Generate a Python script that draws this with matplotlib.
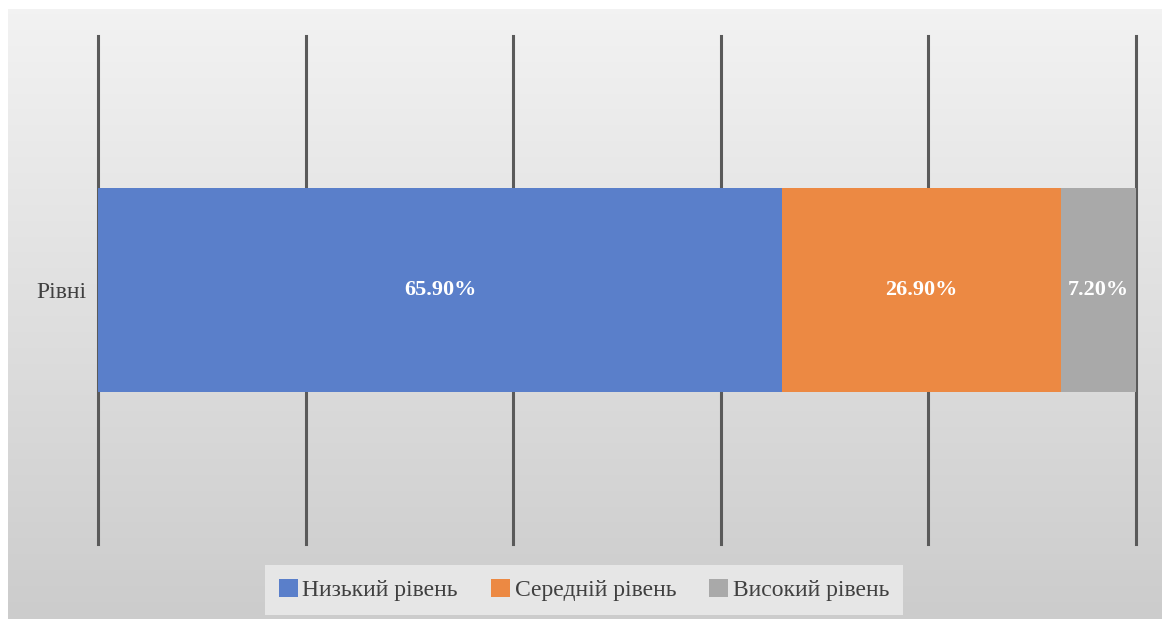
import numpy as np
import matplotlib
matplotlib.use('Agg')
from matplotlib import pyplot as plt

# data
category = ['Рівні']
series = ['Низький рівень', 'Середній рівень', 'Високий рівень']
values = [65.9, 26.9, 7.2]
labels = ['65.90%', '26.90%', '7.20%']
colors = ['#5a7fca', '#ec8943', '#a9a9a9']

W, H = 1162, 619
fig = plt.figure(figsize=(W/100, H/100), dpi=100)
fig.patch.set_facecolor('white')

# gradient background of the chart area
bg = fig.add_axes([8/W, 0, (W-8)/W, (H-9)/H], zorder=0)
grad = np.linspace(0.95, 0.80, 256).reshape(-1, 1)
bg.imshow(np.dstack([grad, grad, grad]), aspect='auto', extent=[0, 1, 0, 1])
bg.axis('off')

ax = fig.add_axes([98/W, 1-544/H, (1136-98)/W, (544-36)/H], zorder=1)
ax.patch.set_alpha(0)

left = 0
for name, v, lab, c in zip(series, values, labels, colors):
    ax.barh(category, [v], left=[left], height=0.4, color=c, label=name, zorder=2)
    ax.text(left + v/2, 0, lab, ha='center', va='center', color='white',
            fontsize=16, fontweight='bold', family='Liberation Serif', zorder=3)
    left += v

ax.set_xlim(0, 100)
ax.set_ylim(-0.5, 0.5)
ax.set_xticks(np.arange(0, 101, 20))
ax.xaxis.grid(True, color='#5a5a5a', linewidth=2.2, zorder=1)
for gl in ax.get_xgridlines():
    gl.set_clip_on(False)
ax.set_axisbelow(True)
ax.tick_params(axis='x', length=0, labelbottom=False)
ax.tick_params(axis='y', length=0, labelsize=17, labelcolor='#404040', pad=8)
for t in ax.get_yticklabels():
    t.set_family('Liberation Serif')
for s in ax.spines.values():
    s.set_visible(False)

leg = fig.legend(loc='center', bbox_to_anchor=(584/W, 1-590/H), ncol=3,
                 frameon=True, fancybox=False, edgecolor='none', facecolor='#e6e6e6',
                 framealpha=1, handlelength=0.8, handleheight=0.8, handletextpad=0.2,
                 columnspacing=1.4, borderpad=0.6,
                 prop={'family': 'Liberation Serif', 'size': 17})
for t in leg.get_texts():
    t.set_color('#404040')

fig.savefig('out.png', dpi=100)
